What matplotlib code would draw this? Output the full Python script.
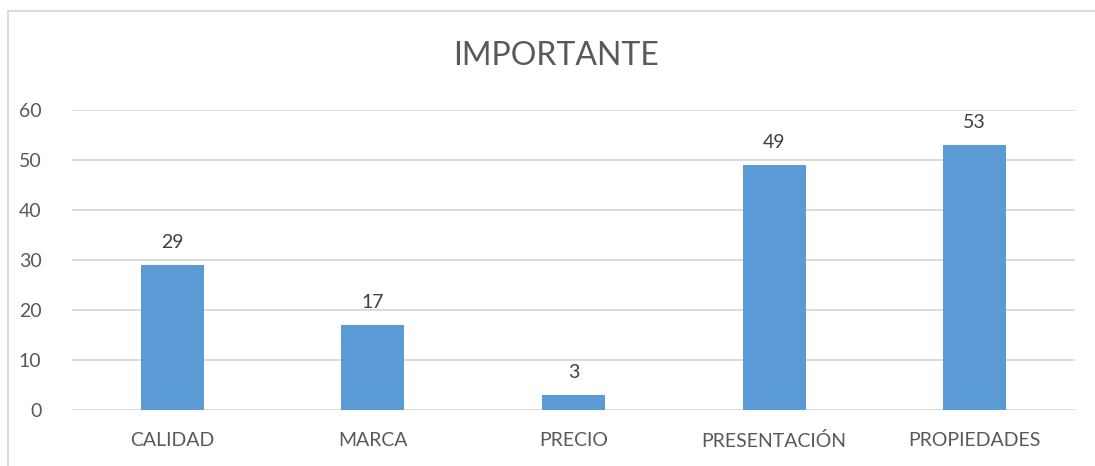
import matplotlib.pyplot as plt
from matplotlib.lines import Line2D

plt.rcParams['font.family'] = ['Lato', 'DejaVu Sans']

categorias = ['CALIDAD', 'MARCA', 'PRECIO', 'PRESENTACIÓN', 'PROPIEDADES']
valores = [29, 17, 3, 49, 53]
ticks_y = [0, 10, 20, 30, 40, 50, 60]

texto = '#595959'
grid = '#D9D9D9'
azul = '#5B9BD5'

fig = plt.figure(figsize=(10.95, 4.66), dpi=100)
ax = fig.add_axes([72/1095, 1 - 410/466, (1075-72)/1095, 300/466])

x = range(len(categorias))
bars = ax.bar(x, valores, width=0.314, color=azul, zorder=3)
for b, v in zip(bars, valores):
    ax.text(b.get_x() + b.get_width()/2, v + 2.8, str(v), ha='center', va='bottom',
            fontsize=14, color='#404040')

ax.set_xlim(-0.5, len(categorias) - 0.5)
ax.set_ylim(0, 60)
ax.set_yticks(ticks_y)
ax.set_xticks(list(x))
ax.set_xticklabels(categorias)
ax.tick_params(axis='both', length=0, labelsize=14, colors=texto)
ax.tick_params(axis='y', pad=22)
ax.tick_params(axis='x', pad=16)
ax.yaxis.grid(True, color=grid, linewidth=1.3, zorder=0)
for s in ax.spines.values():
    s.set_visible(False)

fig.text(556/1095, 1 - 56/466, 'IMPORTANTE', ha='center', va='center',
         fontsize=23, color=texto)

# marco exterior: solo borde superior e izquierdo
x0, y0 = 8/1095, 1 - 11/466
fig.lines.append(Line2D([x0, 1.0], [y0, y0], transform=fig.transFigure,
                        color=grid, linewidth=1.3))
fig.lines.append(Line2D([x0, x0], [0.0, y0], transform=fig.transFigure,
                        color=grid, linewidth=1.3))

fig.savefig('out.png', dpi=100)
